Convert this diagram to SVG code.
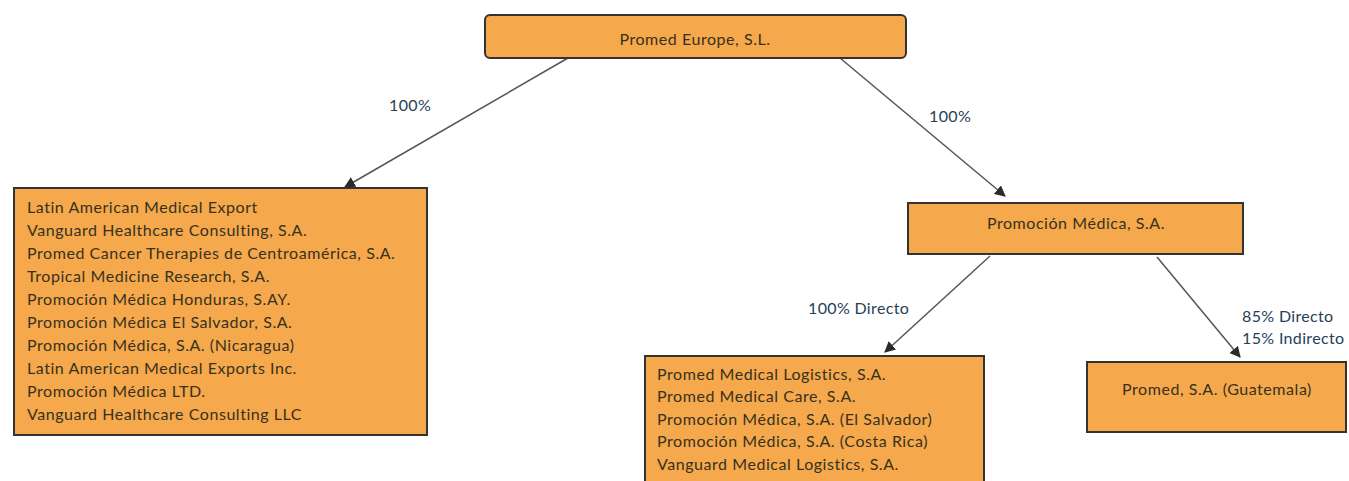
<svg xmlns="http://www.w3.org/2000/svg" width="1349" height="481" viewBox="0 0 1349 481">
<defs>
<marker id="ah" viewBox="0 0 10 10" refX="9" refY="5" markerWidth="11" markerHeight="11" markerUnits="userSpaceOnUse" orient="auto">
<path d="M0,0 L10,5 L0,10 z" fill="#2a2a2a"/>
</marker>
<style>
.box{fill:#f5a84c;stroke:#333;stroke-width:2}
.t{font-family:Lato,"Open Sans",sans-serif;font-size:16px;letter-spacing:0.55px;fill:#36321e}
.c{text-anchor:middle}
.lbl{font-family:Lato,"Open Sans",sans-serif;font-size:16px;letter-spacing:0.35px;fill:#263f58}
.con{stroke:#555;stroke-width:1.5;fill:none;marker-end:url(#ah)}
</style>
</defs>
<rect width="1349" height="481" fill="#fff"/>
<g id="connectors">
<line class="con" x1="568" y1="58" x2="345" y2="187"/>
<line class="con" x1="840" y1="58" x2="1005" y2="196"/>
<line class="con" x1="990" y1="256" x2="885" y2="352"/>
<line class="con" x1="1157" y1="257" x2="1240" y2="357"/>
<text class="lbl" x="389" y="111">100%</text>
<text class="lbl" x="929" y="122">100%</text>
<text class="lbl" x="808" y="314">100% Directo</text>
<text class="lbl" x="1242" y="322">85% Directo</text>
<text class="lbl" x="1242" y="344">15% Indirecto</text>
</g>
<g id="promed-europe">
<rect class="box" x="485" y="15" width="421" height="43" rx="5"/>
<text class="t c" x="695" y="45">Promed Europe, S.L.</text>
</g>
<g id="latam-group">
<rect class="box" x="14" y="188" width="413" height="247"/>
<text class="t" x="27" y="213">Latin American Medical Export</text>
<text class="t" x="27" y="236">Vanguard Healthcare Consulting, S.A.</text>
<text class="t" x="27" y="259">Promed Cancer Therapies de Centroamérica, S.A.</text>
<text class="t" x="27" y="282">Tropical Medicine Research, S.A.</text>
<text class="t" x="27" y="305">Promoción Médica Honduras, S.AY.</text>
<text class="t" x="27" y="328">Promoción Médica El Salvador, S.A.</text>
<text class="t" x="27" y="351">Promoción Médica, S.A. (Nicaragua)</text>
<text class="t" x="27" y="374">Latin American Medical Exports Inc.</text>
<text class="t" x="27" y="397">Promoción Médica LTD.</text>
<text class="t" x="27" y="420">Vanguard Healthcare Consulting LLC</text>
</g>
<g id="promocion-medica">
<rect class="box" x="908" y="203" width="335" height="51"/>
<text class="t c" x="1076" y="229">Promoción Médica, S.A.</text>
</g>
<g id="logistics-group">
<rect class="box" x="645" y="356" width="339" height="130"/>
<text class="t" x="657" y="380">Promed Medical Logistics, S.A.</text>
<text class="t" x="657" y="402">Promed Medical Care, S.A.</text>
<text class="t" x="657" y="425">Promoción Médica, S.A. (El Salvador)</text>
<text class="t" x="657" y="447">Promoción Médica, S.A. (Costa Rica)</text>
<text class="t" x="657" y="470">Vanguard Medical Logistics, S.A.</text>
</g>
<g id="promed-guatemala">
<rect class="box" x="1087" y="362" width="259" height="70"/>
<text class="t c" x="1217" y="395">Promed, S.A. (Guatemala)</text>
</g>
</svg>
